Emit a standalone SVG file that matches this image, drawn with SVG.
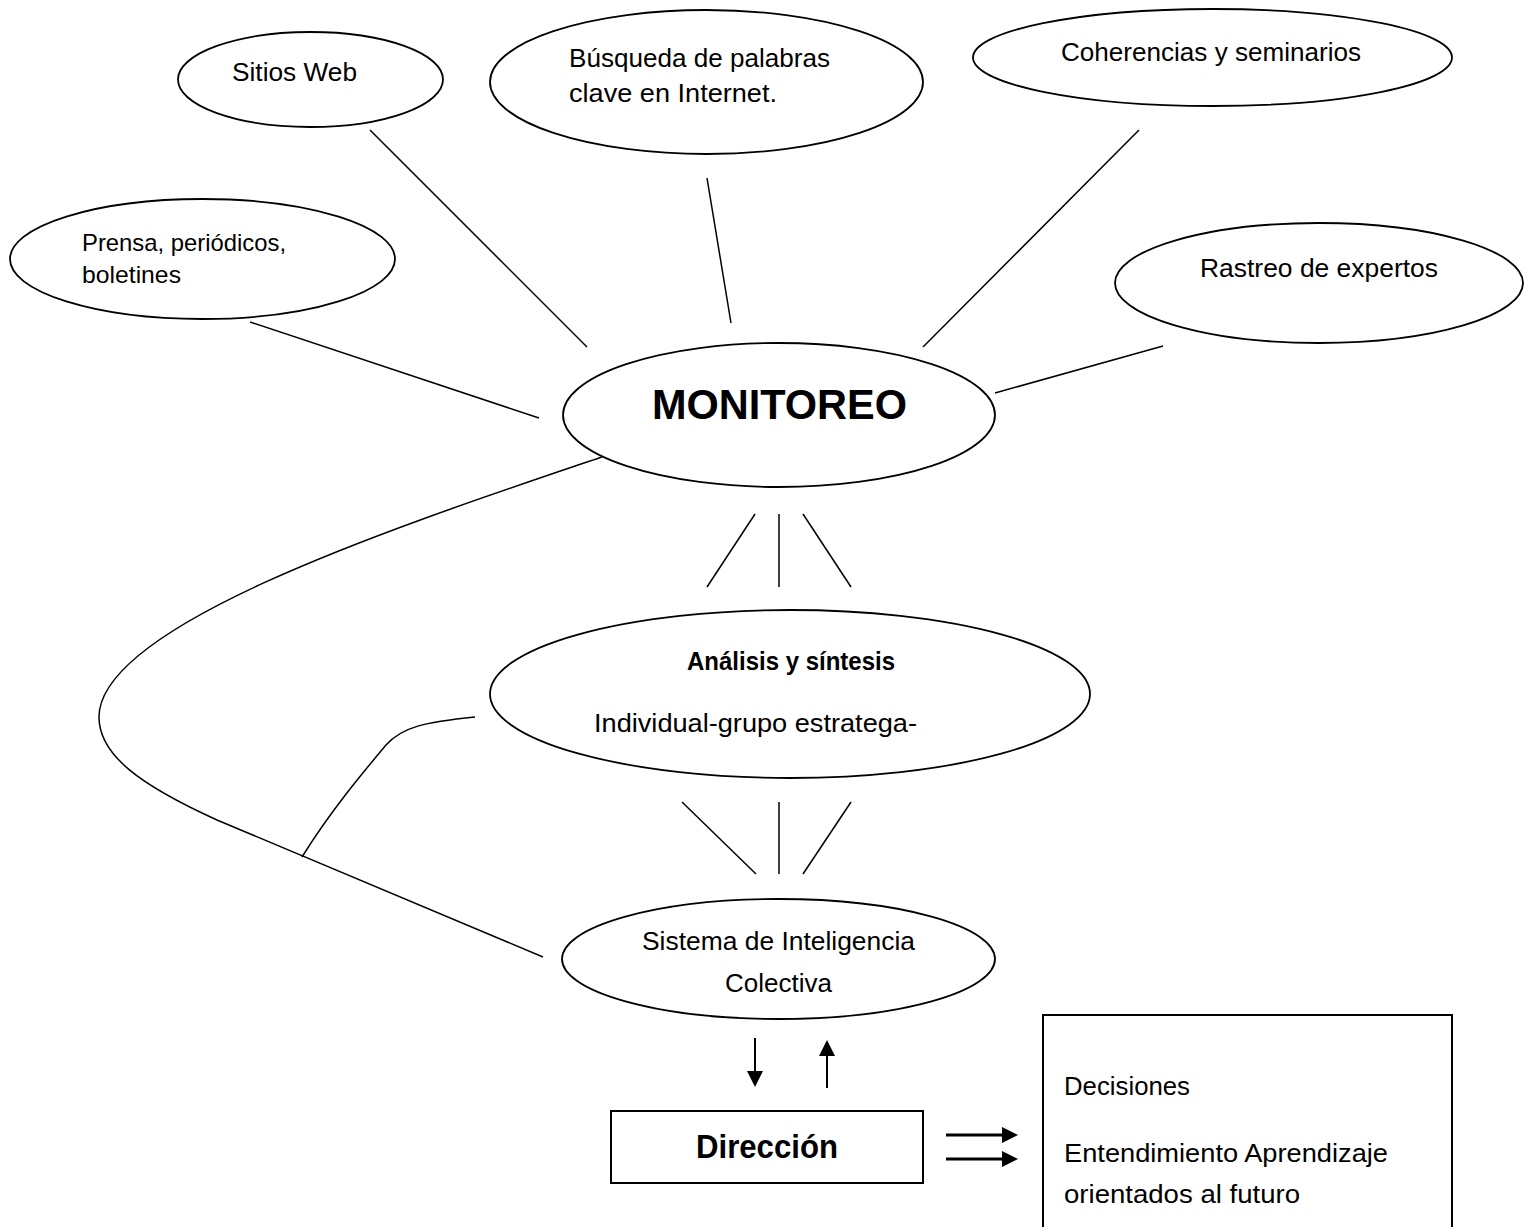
<svg xmlns="http://www.w3.org/2000/svg" width="1531" height="1227" viewBox="0 0 1531 1227">
<style>
  .shape { fill: #ffffff; stroke: #000000; stroke-width: 1.8; }
  .box { fill: #ffffff; stroke: #000000; stroke-width: 2; }
  .line { fill: none; stroke: #000000; stroke-width: 1.5; }
  .arrow { fill: none; stroke: #000000; stroke-width: 2; }
  .arrowThick { fill: none; stroke: #000000; stroke-width: 3; }
  text { font-family: "Liberation Sans", Arial, sans-serif; fill: #000000; }
  .t { font-size: 26.4px; }
  .ts { font-size: 23.8px; }
  .tb { font-size: 26.4px; font-weight: bold; }
  .big { font-size: 43px; font-weight: bold; }
  .dir { font-size: 33px; font-weight: bold; }
</style>
<defs>
  <marker id="head" viewBox="0 0 16 16" markerUnits="userSpaceOnUse" markerWidth="16" markerHeight="16" refX="6" refY="8" orient="auto">
    <path d="M0,0 L16,8 L0,16 z" fill="#000000"/>
  </marker>
</defs>
<rect width="1531" height="1227" fill="#ffffff"/>

<g id="connectors">
  <line class="line" x1="370" y1="130" x2="587" y2="347"/>
  <line class="line" x1="250" y1="322" x2="539" y2="418"/>
  <line class="line" x1="707" y1="178" x2="731" y2="323"/>
  <line class="line" x1="1139" y1="130" x2="923" y2="347"/>
  <line class="line" x1="995" y1="393" x2="1163" y2="346"/>
  <path class="line" d="M602,457 C395,527 99,625 99,717 C99,755 140,785 217,820 L543,957"/>
  <path class="line" d="M475,717 C425,722 402,727 386,745 C360,776 330,812 302,857"/>
  <line class="line" x1="755" y1="514" x2="707" y2="587"/>
  <line class="line" x1="779" y1="514" x2="779" y2="587"/>
  <line class="line" x1="803" y1="514" x2="851" y2="587"/>
  <line class="line" x1="682" y1="802" x2="756" y2="874"/>
  <line class="line" x1="779" y1="802" x2="779" y2="874"/>
  <line class="line" x1="851" y1="802" x2="803" y2="874"/>
  <line class="arrow" x1="755" y1="1038" x2="755" y2="1077" marker-end="url(#head)"/>
  <line class="arrow" x1="827" y1="1088" x2="827" y2="1050" marker-end="url(#head)"/>
  <line class="arrowThick" x1="946" y1="1135" x2="1008" y2="1135" marker-end="url(#head)"/>
  <line class="arrowThick" x1="946" y1="1159" x2="1008" y2="1159" marker-end="url(#head)"/>
</g>

<g id="node-sitios">
  <ellipse class="shape" cx="310.5" cy="79.5" rx="132.5" ry="47.5"/>
  <text class="t" x="232" y="81" textLength="125" lengthAdjust="spacingAndGlyphs">Sitios Web</text>
</g>
<g id="node-busqueda">
  <ellipse class="shape" cx="706.5" cy="82" rx="216.5" ry="72"/>
  <text class="t" x="569" y="67" textLength="261" lengthAdjust="spacingAndGlyphs">Búsqueda de palabras</text>
  <text class="t" x="569" y="102" textLength="208" lengthAdjust="spacingAndGlyphs">clave en Internet.</text>
</g>
<g id="node-coherencias">
  <ellipse class="shape" cx="1212.5" cy="57.5" rx="239.5" ry="48.5"/>
  <text class="t" x="1061" y="61" textLength="300" lengthAdjust="spacingAndGlyphs">Coherencias y seminarios</text>
</g>
<g id="node-prensa">
  <ellipse class="shape" cx="202.5" cy="259" rx="192.5" ry="60"/>
  <text class="ts" x="82" y="251" textLength="204" lengthAdjust="spacingAndGlyphs">Prensa, periódicos,</text>
  <text class="ts" x="82" y="283" textLength="99" lengthAdjust="spacingAndGlyphs">boletines</text>
</g>
<g id="node-rastreo">
  <ellipse class="shape" cx="1319" cy="283" rx="204" ry="60"/>
  <text class="t" x="1200" y="277" textLength="238" lengthAdjust="spacingAndGlyphs">Rastreo de expertos</text>
</g>
<g id="node-monitoreo">
  <ellipse class="shape" cx="779" cy="415" rx="216" ry="72"/>
  <text class="big" x="652" y="419" textLength="255" lengthAdjust="spacingAndGlyphs">MONITOREO</text>
</g>
<g id="node-analisis">
  <ellipse class="shape" cx="790" cy="694" rx="300" ry="84"/>
  <text class="tb" x="687" y="670" textLength="208" lengthAdjust="spacingAndGlyphs">Análisis y síntesis</text>
  <text class="t" x="594" y="732" textLength="323" lengthAdjust="spacingAndGlyphs">Individual-grupo estratega-</text>
</g>
<g id="node-sistema">
  <ellipse class="shape" cx="778.5" cy="959" rx="216.5" ry="60"/>
  <text class="t" x="642" y="950" textLength="273" lengthAdjust="spacingAndGlyphs">Sistema de Inteligencia</text>
  <text class="t" x="725" y="992" textLength="107" lengthAdjust="spacingAndGlyphs">Colectiva</text>
</g>
<g id="node-direccion">
  <rect class="box" x="611" y="1111" width="312" height="72"/>
  <text class="dir" x="696" y="1158" textLength="142" lengthAdjust="spacingAndGlyphs">Dirección</text>
</g>
<g id="node-resultados">
  <rect class="box" x="1043" y="1015" width="409" height="230"/>
  <text class="t" x="1064" y="1095" textLength="126" lengthAdjust="spacingAndGlyphs">Decisiones</text>
  <text class="t" x="1064" y="1162" textLength="324" lengthAdjust="spacingAndGlyphs">Entendimiento Aprendizaje</text>
  <text class="t" x="1064" y="1203" textLength="236" lengthAdjust="spacingAndGlyphs">orientados al futuro</text>
</g>
</svg>
